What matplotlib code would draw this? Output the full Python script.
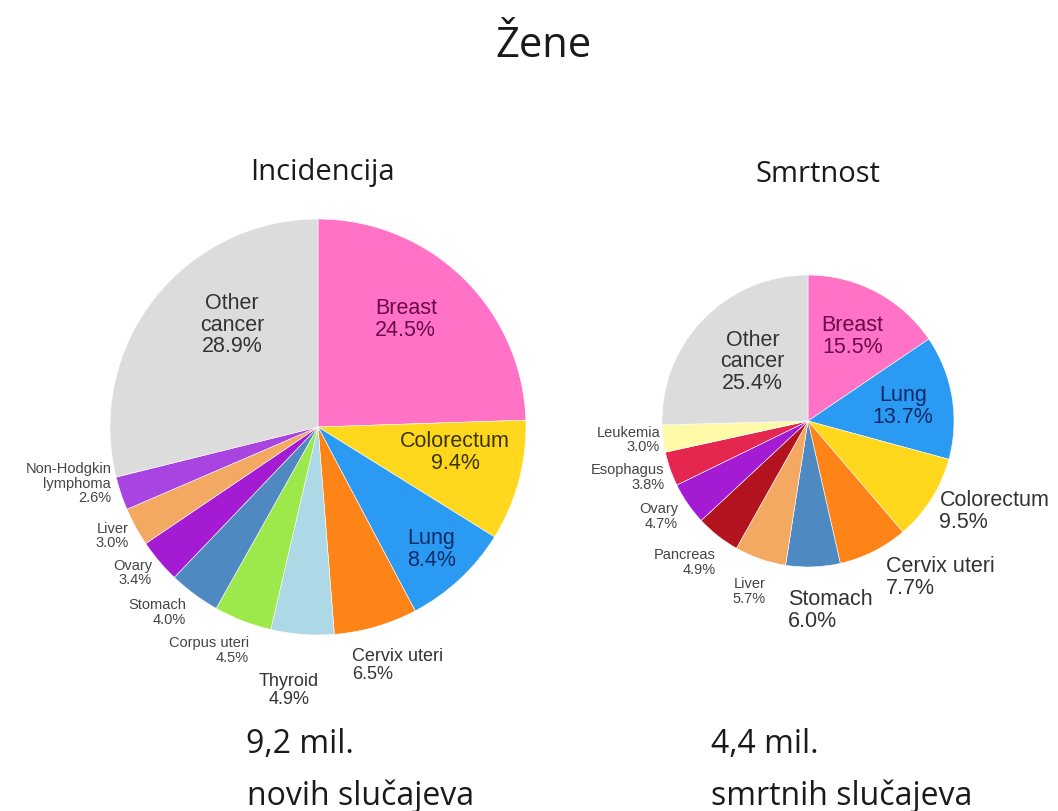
import matplotlib
matplotlib.use("Agg")
import matplotlib.pyplot as plt
import numpy as np

# Incidencija (lijevi krug)
inc_labels = ["Breast", "Colorectum", "Lung", "Cervix uteri", "Thyroid", "Corpus uteri",
              "Stomach", "Ovary", "Liver", "Non-Hodgkin\nlymphoma", "Other\ncancer"]
inc_values = [24.5, 9.4, 8.4, 6.5, 4.9, 4.5, 4.0, 3.4, 3.0, 2.6, 28.9]

# Smrtnost (desni krug)
mort_labels = ["Breast", "Lung", "Colorectum", "Cervix uteri", "Stomach", "Liver",
               "Pancreas", "Ovary", "Esophagus", "Leukemia", "Other\ncancer"]
mort_values = [15.5, 13.7, 9.5, 7.7, 6.0, 5.7, 4.9, 4.7, 3.8, 3.0, 25.4]

inc_colors = ["#ff72c6", "#ffd81e", "#2b9af3", "#ff8418", "#add8e6", "#9de84a",
              "#4f89c2", "#a41bd3", "#f4a962", "#a944e0", "#dcdcdc"]
mort_colors = ["#ff72c6", "#2b9af3", "#ffd81e", "#ff8418", "#4f89c2", "#f4a962",
               "#b3131e", "#a41bd3", "#e5274f", "#fdfba8", "#dcdcdc"]

# stil natpisa: (udaljenost u polumjerima, pomak kuta, poravnanje, velicina, boja)
inc_style = [(0.67, 5, "center", 15.5, "#6a0a4e"), (0.67, 5, "center", 15.5, "#3a3300"),
             (0.80, 0, "center", 15.5, "#0b2a66"), (1.155, -8, "left", 13, "#333333"),
             (1.27, -2, "center", 13, "#333333"), (1.12, 4, "right", 10.5, "#444444"),
             (1.09, 1, "right", 10.5, "#444444"), (1.06, 1, "right", 10.5, "#444444"),
             (1.05, 1, "right", 10.5, "#444444"), (1.03, -3.5, "right", 10.5, "#444444"),
             (0.645, -12, "center", 15.5, "#333333")]
mort_style = [(0.66, 0.5, "center", 15.5, "#6a0a4e"), (0.66, 0, "center", 15.5, "#0b2a66"),
              (1.09, -2, "left", 15.5, "#333333"), (1.19, 0, "left", 15.5, "#333333"),
              (1.30, -8, "left", 15.5, "#333333"), (1.23, 0, "center", 10.5, "#444444"),
              (1.15, 5, "right", 10.5, "#444444"), (1.10, 1.5, "right", 10.5, "#444444"),
              (1.055, 2, "right", 10.5, "#444444"), (1.02, 0, "right", 10.5, "#444444"),
              (0.56, -3, "center", 15.5, "#333333")]

W, H = 1058, 812
fig = plt.figure(figsize=(W / 100, H / 100), dpi=100)
ax = fig.add_axes([0, 0, 1, 1])


def draw_pie(values, labels, colors, style, cx, cy, r):
    wedges, _ = ax.pie(values, colors=colors, startangle=90, counterclock=False,
                       center=(cx, cy), radius=r, normalize=True,
                       wedgeprops=dict(edgecolor="white", linewidth=0.4))
    for w, lab, val, st in zip(wedges, labels, values, style):
        fac, off, ha, fs, col = st
        ang = np.deg2rad((w.theta1 + w.theta2) / 2 + off)
        x = cx + fac * r * np.cos(ang)
        y = cy + fac * r * np.sin(ang)
        ax.text(x, y, "%s\n%.1f%%" % (lab, val), ha=ha, va="center", fontsize=fs,
                color=col, family="Liberation Sans", linespacing=1.05, multialignment=ha)


draw_pie(inc_values, inc_labels, inc_colors, inc_style, 318, H - 428, 208)
draw_pie(mort_values, mort_labels, mort_colors, mort_style, 808, H - 422, 146)

ax.set_xlim(0, W)
ax.set_ylim(0, H)
ax.set_aspect("equal")
ax.axis("off")

f = "Open Sans"
c = "#1a1a1a"
# naslovi (y = osnovna linija teksta)
fig.text(543 / W, 1 - 57 / H, "Žene", ha="center", va="baseline", fontsize=30, family=f, color=c)
fig.text(322 / W, 1 - 180 / H, "Incidencija", ha="center", va="baseline", fontsize=21, family=f, color=c)
fig.text(818 / W, 1 - 182 / H, "Smrtnost", ha="center", va="baseline", fontsize=21, family=f, color=c)
fig.text(246 / W, 1 - 753 / H, "9,2 mil.", ha="left", va="baseline", fontsize=23, family=f, color=c)
fig.text(247 / W, 1 - 805 / H, "novih slučajeva", ha="left", va="baseline", fontsize=23, family=f, color=c)
fig.text(711 / W, 1 - 753 / H, "4,4 mil.", ha="left", va="baseline", fontsize=23, family=f, color=c)
fig.text(711 / W, 1 - 805 / H, "smrtnih slučajeva", ha="left", va="baseline", fontsize=23, family=f, color=c)

fig.savefig("out.png", dpi=100, facecolor="white")
